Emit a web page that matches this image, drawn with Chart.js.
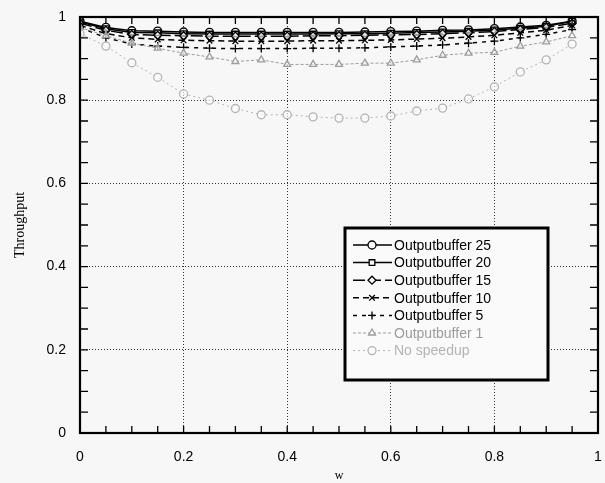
<!DOCTYPE html>
<html>
<head>
<meta charset="utf-8">
<script src="https://cdn.jsdelivr.net/npm/chart.js@4"></script>
<style>
  html, body { margin: 0; padding: 0; background: #f7f7f7; }
  #wrap { width: 605px; height: 483px; }
</style>
</head>
<body>
<div id="wrap"><canvas id="myChart" width="605" height="483"></canvas></div>
<script>
const xValues = [0, 0.05, 0.1, 0.15, 0.2, 0.25, 0.3, 0.35, 0.4, 0.45, 0.5, 0.55, 0.6, 0.65, 0.7, 0.75, 0.8, 0.85, 0.9, 0.95];
const seriesLabels = ['Outputbuffer 25', 'Outputbuffer 20', 'Outputbuffer 15', 'Outputbuffer 10', 'Outputbuffer 5', 'Outputbuffer 1', 'No speedup'];
const ob25 = [0.99, 0.975, 0.967, 0.966, 0.964, 0.963, 0.963, 0.963, 0.963, 0.963, 0.963, 0.964, 0.965, 0.966, 0.968, 0.969, 0.972, 0.976, 0.98, 0.99];
const ob20 = [0.988, 0.972, 0.963, 0.962, 0.96, 0.959, 0.959, 0.959, 0.959, 0.959, 0.96, 0.96, 0.961, 0.963, 0.964, 0.966, 0.969, 0.973, 0.978, 0.99];
const ob15 = [0.985, 0.968, 0.958, 0.956, 0.955, 0.954, 0.954, 0.954, 0.954, 0.955, 0.955, 0.956, 0.957, 0.958, 0.96, 0.962, 0.965, 0.97, 0.975, 0.985];
const ob10 = [0.98, 0.96, 0.95, 0.946, 0.944, 0.943, 0.942, 0.942, 0.942, 0.943, 0.943, 0.944, 0.945, 0.947, 0.949, 0.952, 0.956, 0.962, 0.968, 0.98];
const ob5 = [0.975, 0.95, 0.935, 0.93, 0.927, 0.925, 0.924, 0.924, 0.924, 0.925, 0.925, 0.926, 0.928, 0.93, 0.933, 0.937, 0.942, 0.95, 0.958, 0.97];
const ob1 = [0.975, 0.955, 0.937, 0.925, 0.913, 0.904, 0.893, 0.897, 0.886, 0.886, 0.886, 0.889, 0.889, 0.897, 0.908, 0.913, 0.915, 0.93, 0.94, 0.955];
const noSpeedup = [0.96, 0.93, 0.89, 0.855, 0.815, 0.8, 0.78, 0.765, 0.765, 0.76, 0.757, 0.757, 0.762, 0.774, 0.781, 0.803, 0.832, 0.868, 0.897, 0.935];
const axisTicks = [0, 0.2, 0.4, 0.6, 0.8, 1];
const tickLabels = ['0', '0.2', '0.4', '0.6', '0.8', '1'];
const minorTicks = [0.05, 0.1, 0.15, 0.2, 0.25, 0.3, 0.35, 0.4, 0.45, 0.5, 0.55, 0.6, 0.65, 0.7, 0.75, 0.8, 0.85, 0.9, 0.95];

const styles = [
  { color: '#000', dash: [], point: 'circle' },
  { color: '#000', dash: [], point: 'rect' },
  { color: '#000', dash: [12, 4], point: 'rectRot' },
  { color: '#000', dash: [6, 4], point: 'crossRot' },
  { color: '#000', dash: [4, 5], point: 'cross' },
  { color: '#9c9c9c', dash: [3, 2], point: 'triangle' },
  { color: '#b4b4b4', dash: [2, 3], point: 'circle' }
];
const allSeries = [ob25, ob20, ob15, ob10, ob5, ob1, noSpeedup];

const datasets = allSeries.map((vals, i) => ({
  label: seriesLabels[i],
  data: vals.map((v, j) => ({ x: xValues[j], y: v })),
  borderColor: styles[i].color,
  backgroundColor: '#fff',
  pointBorderColor: styles[i].color,
  pointBackgroundColor: 'rgba(255,255,255,0.6)',
  borderWidth: i < 5 ? 1.5 : 1,
  borderDash: styles[i].dash,
  pointStyle: styles[i].point,
  pointRadius: 4,
  pointBorderWidth: 1.3,
  showLine: true,
  fill: false,
  order: 7 - i
}));

const framePlugin = {
  id: 'frame',
  afterDraw(chart) {
    const ctx = chart.ctx, a = chart.chartArea;
    const xs = chart.scales.x, ys = chart.scales.y;
    ctx.save();
    // inward ticks
    ctx.strokeStyle = '#000';
    ctx.lineWidth = 1.3;
    ctx.beginPath();
    minorTicks.forEach(v => {
      const px = xs.getPixelForValue(v), py = ys.getPixelForValue(v);
      ctx.moveTo(px, a.bottom); ctx.lineTo(px, a.bottom - 7);
      ctx.moveTo(px, a.top); ctx.lineTo(px, a.top + 7);
      ctx.moveTo(a.left, py); ctx.lineTo(a.left + 8, py);
      ctx.moveTo(a.right, py); ctx.lineTo(a.right - 8, py);
    });
    ctx.stroke();
    // frame
    ctx.lineWidth = 2.2;
    ctx.strokeRect(a.left, a.top, a.right - a.left, a.bottom - a.top);

    // legend box
    const bx = 345, by = 228, bw = 203, bh = 152;
    ctx.fillStyle = '#fafafa';
    ctx.fillRect(bx, by, bw, bh);
    ctx.lineWidth = 3;
    ctx.strokeStyle = '#000';
    ctx.strokeRect(bx, by, bw, bh);
    ctx.font = '14px "Liberation Sans", Arial, sans-serif';
    ctx.textBaseline = 'middle';
    chart.data.datasets.forEach((ds, i) => {
      const y = by + 17 + i * 17.6;
      ctx.save();
      ctx.strokeStyle = ds.borderColor;
      ctx.lineWidth = ds.borderWidth;
      ctx.setLineDash(ds.borderDash);
      ctx.beginPath();
      ctx.moveTo(353, y); ctx.lineTo(392, y);
      ctx.stroke();
      ctx.setLineDash([]);
      ctx.lineWidth = 1.3;
      Chart.helpers.drawPoint(ctx, { pointStyle: ds.pointStyle, radius: 4, borderWidth: 1.3, rotation: 0 }, 372, y);
      ctx.fillStyle = i < 5 ? '#000' : ds.borderColor;
      ctx.fillText(ds.label, 394, y + 1);
      ctx.restore();
    });
    ctx.restore();
  }
};

const tickFont = { size: 14, family: '"Liberation Sans", Arial, sans-serif' };

const ctx = document.getElementById('myChart');
const myChart = new Chart(ctx, {
  type: 'scatter',
  data: { datasets: datasets },
  options: {
    responsive: false,
    animation: false,
    layout: { padding: { top: 17, right: 7, left: 0, bottom: 0 } },
    plugins: { legend: { display: false }, tooltip: { enabled: false } },
    scales: {
      x: {
        type: 'linear', min: 0, max: 1,
        afterFit: s => { s.height = 50; s.paddingRight = 0; s.paddingLeft = 0; },
        afterBuildTicks: s => { s.ticks = axisTicks.map(v => ({ value: v })); },
        ticks: { color: '#000', padding: 16, font: tickFont, callback: (v, i) => tickLabels[i] },
        grid: { color: '#333', lineWidth: 1, tickLength: 0 },
        border: { display: false, dash: [1, 2] },
        title: { display: true, text: 'w', color: '#000', padding: { top: 0, bottom: 0 }, font: { size: 12, family: '"Liberation Serif", serif' } }
      },
      y: {
        type: 'linear', min: 0, max: 1,
        afterFit: s => { s.width = 80; s.paddingTop = 0; s.paddingBottom = 0; },
        afterBuildTicks: s => { s.ticks = axisTicks.map(v => ({ value: v })); },
        ticks: { color: '#000', padding: 14, font: tickFont, callback: (v, i) => tickLabels[i] },
        grid: { color: '#333', lineWidth: 1, tickLength: 0 },
        border: { display: false, dash: [1, 2] },
        title: { display: true, text: 'Throughput', color: '#000', padding: { top: 12, bottom: 0 }, font: { size: 14, family: '"Liberation Serif", serif' } }
      }
    }
  },
  plugins: [framePlugin]
});
</script>
</body>
</html>
